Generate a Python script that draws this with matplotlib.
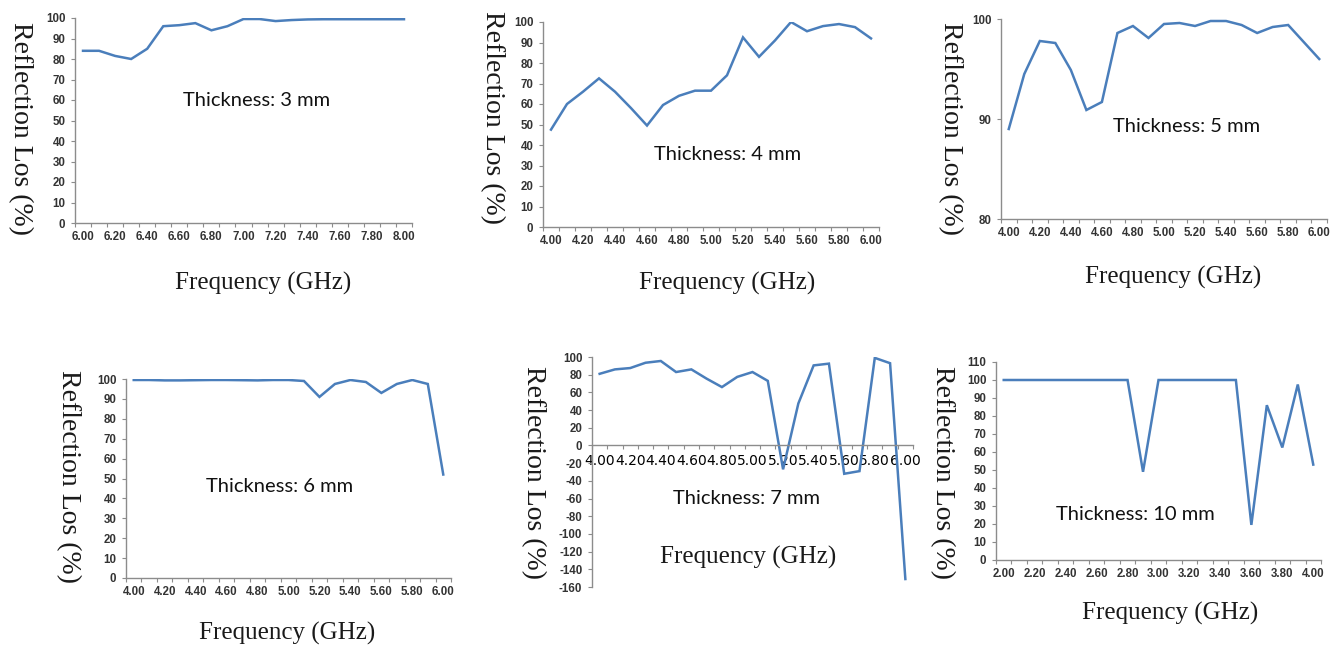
import numpy as np
import matplotlib.pyplot as plt

W, H = 1340, 650

# frequency categories (GHz)
freq_6_8 = ["%.2f" % (6.0 + 0.1 * i) for i in range(21)]
freq_4_6 = ["%.2f" % (4.0 + 0.1 * i) for i in range(21)]
freq_2_4 = ["%.2f" % (2.0 + 0.1 * i) for i in range(21)]

# reflection loss (%) per thickness
rl_3mm = [84, 84, 81.5, 80, 85, 96, 96.5, 97.5, 94, 96, 99.5, 99.5, 98.5, 99,
          99.3, 99.4, 99.4, 99.4, 99.4, 99.4, 99.4]
rl_4mm = [47.5, 60, 66, 72.5, 66, 58, 49.5, 59.5, 64, 66.5, 66.5, 74, 92.5, 83,
          91, 100, 95.5, 98, 99, 97.5, 92]
rl_5mm = [89.0, 94.5, 97.8, 97.6, 94.9, 90.9, 91.7, 98.6, 99.3, 98.1, 99.5, 99.6,
          99.3, 99.8, 99.8, 99.4, 98.6, 99.2, 99.4, 97.7, 96.0]
rl_6mm = [99.5, 99.5, 99.3, 99.3, 99.4, 99.5, 99.5, 99.4, 99.3, 99.5, 99.5, 99,
          91, 97.5, 99.5, 98.5, 93, 97.5, 99.5, 97.5, 52]
rl_7mm = [81, 86, 87.5, 93.5, 95.5, 83, 86, 75.5, 66, 77.5, 83, 73, -27, 47.5,
          90.5, 92.5, -32, -29, 99, 93, -151]
rl_10mm = [100, 100, 100, 100, 100, 100, 100, 100, 100, 49, 100, 100, 100, 100,
           100, 100, 19.5, 86, 62.5, 97.5, 53]

panels = [
    # x labels, y values, (left, right, top, bottom) px, ylim, yticks, thickness,
    # ylabel pos, xlabel pos, note pos
    (freq_6_8, rl_3mm, (75, 412, 18, 223), (0, 100), range(0, 101, 10), "3 mm",
     (20, 128), (263, 283), (257, 101)),
    (freq_4_6, rl_4mm, (543, 879, 22, 227), (0, 100), range(0, 101, 10), "4 mm",
     (492, 118), (727, 283), (728, 155)),
    (freq_4_6, rl_5mm, (1001, 1327, 19, 219), (80, 100), range(80, 101, 10), "5 mm",
     (950, 128), (1173, 277), (1187, 127)),
    (freq_4_6, rl_6mm, (126, 451, 379, 578), (0, 100), range(0, 101, 10), "6 mm",
     (68, 477), (287, 633), (280, 487)),
    (freq_4_6, rl_7mm, (592, 913, 357, 587), (-160, 100), range(-160, 101, 20), "7 mm",
     (533, 473), (748, 557), (747, 498)),
    (freq_2_4, rl_10mm, (996, 1321, 362, 560), (0, 110), range(0, 111, 10), "10 mm",
     (942, 473), (1170, 613), (1135, 515)),
]

line_color = "#4a7ebb"
axis_color = "#8c8c8c"
tick_font = dict(family="Liberation Sans", weight="bold", size=8.3, color="#333333")

fig = plt.figure(figsize=(W / 100, H / 100), dpi=100)

for xlabels, vals, box, ylim, yticks, thick, ylab, xlab, note in panels:
    l, r, t, b = box
    ax = fig.add_axes([l / W, 1 - b / H, (r - l) / W, (b - t) / H])
    x = np.arange(len(vals))
    ax.plot(x, vals, color=line_color, lw=1.8, solid_joinstyle="miter")
    ax.set_xlim(-0.5, len(vals) - 0.5)
    ax.set_ylim(*ylim)
    ax.set_xticks(x[::2])
    ax.set_xticklabels(xlabels[::2], fontdict=tick_font)
    ax.set_xticks(np.arange(-0.5, len(vals), 1), minor=True)
    ax.set_yticks(list(yticks))
    ax.set_yticklabels([str(v) for v in yticks], fontdict=tick_font)
    ax.tick_params(axis="x", which="major", length=0, pad=6)
    ax.tick_params(axis="x", which="minor", length=3, color=axis_color, width=0.8)
    ax.tick_params(axis="y", length=3, color=axis_color, width=0.8, pad=4)
    for s in ["top", "right"]:
        ax.spines[s].set_visible(False)
    for s in ["left", "bottom"]:
        ax.spines[s].set_color(axis_color)
        ax.spines[s].set_linewidth(1.0)
    if ylim[0] < 0:
        ax.spines["bottom"].set_position(("data", 0))
    ax.patch.set_alpha(0)

    fig.text(ylab[0] / W, 1 - ylab[1] / H, "Reflection Los (%)", rotation=270,
             ha="center", va="center", family="Liberation Serif", fontsize=20,
             color="#1a1a1a")
    fig.text(xlab[0] / W, 1 - xlab[1] / H, "Frequency (GHz)", ha="center",
             va="center", family="Liberation Serif", fontsize=18, color="#1a1a1a")
    fig.text(note[0] / W, 1 - note[1] / H, "Thickness: " + thick, ha="center",
             va="center", family="Lato", fontsize=14.5, color="#111111")

fig.savefig("out.png", dpi=100, facecolor="white")
